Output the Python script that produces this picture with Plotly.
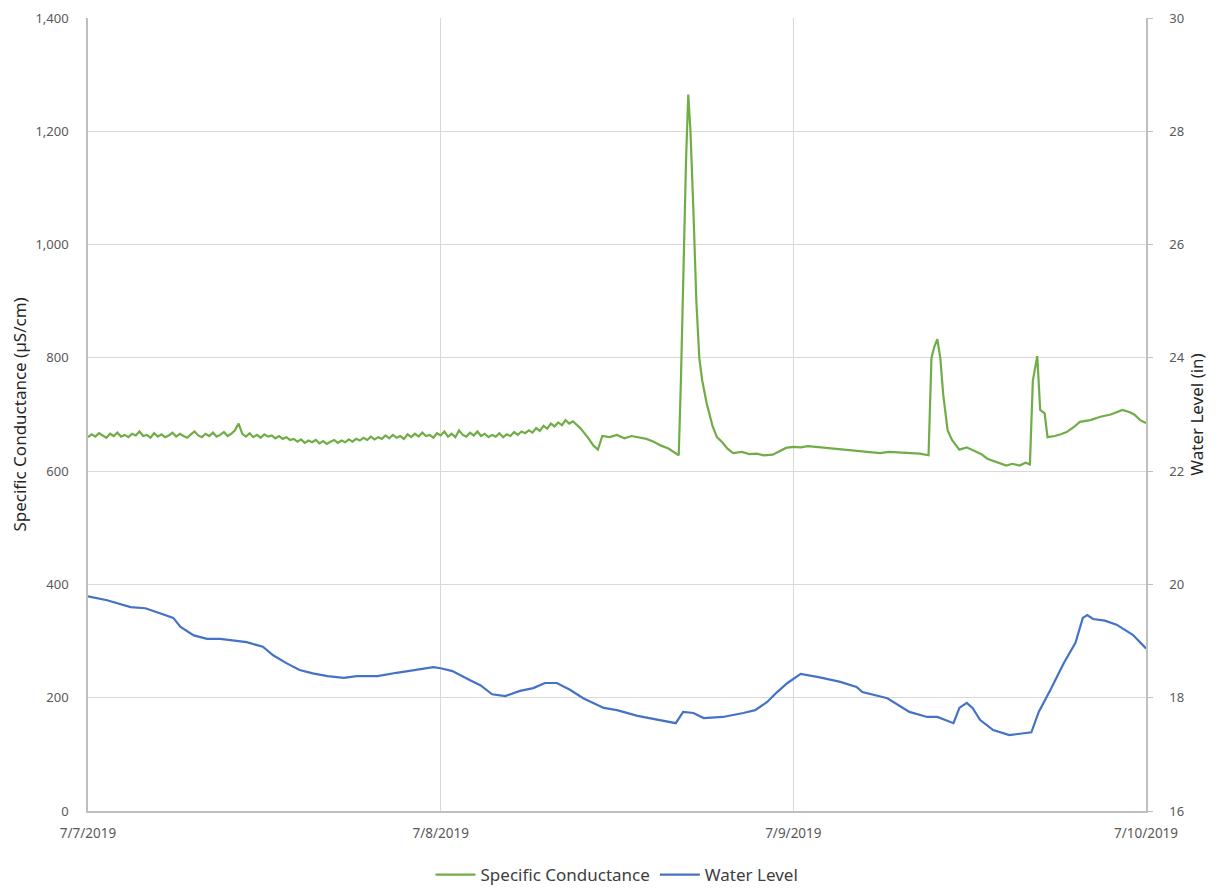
import pandas as pd
import plotly.graph_objects as go

start = pd.Timestamp("2019-07-07 00:00")

# Specific Conductance (µS/cm): hours since 7/7/2019 00:00 and values
sc_hours = [0, 0.25, 0.5, 0.75, 1, 1.25, 1.5, 1.75,
            2, 2.25, 2.5, 2.75, 3, 3.25, 3.5, 3.75,
            4, 4.25, 4.5, 4.75, 5, 5.25, 5.5, 5.75,
            6, 6.25, 6.5, 6.75, 7, 7.25, 7.5, 7.75,
            8, 8.25, 8.5, 8.75, 9, 9.25, 9.5, 9.75,
            10, 10.25, 10.5, 10.75, 11, 11.25, 11.5, 11.75,
            12, 12.25, 12.5, 12.75, 13, 13.25, 13.5, 13.75,
            14, 14.25, 14.5, 14.75, 15, 15.25, 15.5, 15.75,
            16, 16.25, 16.5, 16.75, 17, 17.25, 17.5, 17.75,
            18, 18.25, 18.5, 18.75, 19, 19.25, 19.5, 19.75,
            20, 20.25, 20.5, 20.75, 21, 21.25, 21.5, 21.75,
            22, 22.25, 22.5, 22.75, 23, 23.25, 23.5, 23.75,
            24, 24.25, 24.5, 24.75, 25, 25.25, 25.5, 25.75,
            26, 26.25, 26.5, 26.75, 27, 27.25, 27.5, 27.75,
            28, 28.25, 28.5, 28.75, 29, 29.25, 29.5, 29.75,
            30, 30.25, 30.5, 30.75, 31, 31.25, 31.5, 31.75,
            32, 32.25, 32.5, 32.75, 33, 33.25, 33.5, 33.75,
            34, 34.4,
            34.7, 35, 35.5, 36, 36.5, 37, 37.5, 38, 38.5, 39,
            39.5, 40, 40.2, 40.35, 40.5, 40.7, 40.85, 41, 41.2, 41.4,
            41.6, 41.8, 42.1, 42.3, 42.5, 42.8, 43.2, 43.5, 43.9, 44.5,
            45, 45.5, 46, 46.6, 47.1, 47.5, 48, 48.5, 49, 49.8,
            50.5, 51.5, 52.5, 53.2, 53.9, 54.5, 55.2, 55.9, 56.6, 57.2,
            57.4, 57.6, 57.8, 58, 58.2, 58.5, 58.8, 59, 59.3, 59.8,
            60.4, 60.8, 61.2, 61.6, 62.1, 62.5, 62.9, 63.4, 63.8, 64.1,
            64.3, 64.6, 64.8, 65.1, 65.3, 65.8, 66.2, 66.6, 67.1, 67.5,
            68.2, 68.9, 69.6, 70.4, 70.9, 71.2, 71.6, 72]
sc_values = [660, 665, 661, 667, 663, 659, 666, 662,
             668, 661, 664, 660, 666, 663, 670, 662,
             664, 659, 667, 661, 665, 660, 663, 668,
             661, 666, 662, 659, 665, 670, 663, 660,
             666, 662, 668, 661, 664, 669, 662, 666,
             672, 684, 666, 661, 667, 660, 664, 659,
             665, 661, 663, 658, 662, 657, 660, 655,
             657, 652, 656, 650, 654, 651, 655, 649,
             653, 648, 652, 655, 650, 654, 651, 656,
             652, 657, 654, 659, 655, 661, 656, 660,
             657, 663, 658, 664, 659, 662, 657, 665,
             660, 666, 661, 668, 662, 664, 659, 667,
             663, 670, 661, 666, 660, 672, 664, 661,
             668, 663, 670, 662, 666, 660, 664, 661,
             667, 660, 665, 662, 669, 664, 670, 667,
             672, 668, 676, 671, 680, 675, 684, 679,
             686, 681, 690, 684, 688, 682, 676, 668,
             660, 645,
             638, 662, 660, 664, 658, 662, 660, 657, 652, 645,
             640, 632, 628, 760, 950, 1150, 1265, 1200, 1060, 900,
             800, 760, 720, 700, 680, 660, 650, 640, 632, 634,
             630, 631, 628, 629, 635, 641, 643, 642, 644, 642,
             640, 638, 635, 634, 632, 634, 633, 632, 631, 628,
             800, 820, 833, 800, 735, 672, 655, 648, 638, 642,
             635, 630, 622, 618, 614, 610, 613, 610, 615, 612,
             760, 803, 708, 702, 660, 662, 665, 669, 678, 687,
             690, 696, 700, 708, 704, 700, 690, 685]

# Water Level (in)
wl_hours = [0, 1.3, 2.9, 3.9, 4.9, 5.8, 6.3, 7.2, 8.1, 9.0,
            10.8, 11.9, 12.6, 13.5, 14.4, 15.3, 16.3, 17.4, 18.3, 19.7,
            21.0, 22.4, 23.5, 24.0, 24.8, 26.0, 26.7, 27.5, 28.4, 29.4,
            30.3, 31.1, 31.9, 32.8, 33.7, 35.1, 36.0, 37.4, 38.7, 40.0,
            40.5, 41.2, 41.9, 43.2, 44.6, 45.4, 46.2, 46.9, 47.6, 48.5,
            49.8, 51.2, 52.3, 52.7, 54.4, 55.9, 57.1, 57.8, 58.9, 59.3,
            59.8, 60.2, 60.7, 61.6, 62.7, 64.2, 64.7, 65.5, 66.4, 67.2,
            67.7, 68.0, 68.4, 69.2, 70.0, 71.1, 72.0]
wl_values = [19.79, 19.72, 19.60, 19.58, 19.49, 19.41, 19.25, 19.10, 19.04, 19.04,
             18.98, 18.90, 18.75, 18.61, 18.49, 18.43, 18.38, 18.35, 18.38, 18.38,
             18.44, 18.50, 18.54, 18.52, 18.47, 18.31, 18.22, 18.06, 18.03, 18.12,
             18.17, 18.26, 18.26, 18.14, 17.99, 17.82, 17.78, 17.68, 17.62, 17.55,
             17.75, 17.73, 17.64, 17.66, 17.73, 17.78, 17.92, 18.10, 18.26, 18.42,
             18.36, 18.28, 18.19, 18.10, 17.99, 17.75, 17.66, 17.66, 17.55, 17.82,
             17.91, 17.82, 17.61, 17.43, 17.34, 17.39, 17.75, 18.14, 18.61, 18.97,
             19.41, 19.46, 19.39, 19.36, 19.29, 19.11, 18.87]

x_tick_vals = ["2019-07-07", "2019-07-08", "2019-07-09", "2019-07-10"]
x_tick_text = ["7/7/2019", "7/8/2019", "7/9/2019", "7/10/2019"]

sc_x = [start + pd.Timedelta(hours=h) for h in sc_hours]
wl_x = [start + pd.Timedelta(hours=h) for h in wl_hours]

FONT = "Noto Sans"
GRID = "#d9d9d9"
TICKC = "#595959"

fig = go.Figure()
fig.add_trace(go.Scatter(x=sc_x, y=sc_values, mode="lines", name="Specific Conductance",
                         line=dict(color="#70ad47", width=2.2)))
fig.add_trace(go.Scatter(x=wl_x, y=wl_values, mode="lines", name="Water Level",
                         line=dict(color="#4472c4", width=2.2), yaxis="y2"))

fig.update_layout(
    width=1213, height=884,
    margin=dict(l=80, r=75, t=10, b=81, autoexpand=False),
    paper_bgcolor="white", plot_bgcolor="white",
    font=dict(family=FONT, size=13, color=TICKC),
    showlegend=True,
    legend=dict(orientation="h", x=0.5, xanchor="center",
                yref="container", y=17 / 884, yanchor="middle",
                font=dict(size=17, color="#404040"), itemwidth=40,
                traceorder="normal"),
    xaxis=dict(type="date", range=["2019-07-07", "2019-07-10"],
               tickvals=x_tick_vals, ticktext=x_tick_text,
               showgrid=True, gridcolor=GRID, gridwidth=1,
               showline=True, linecolor="#bfbfbf", linewidth=1.5,
               ticks="", ticklabelstandoff=9, automargin=False,
               tickfont=dict(size=13.5, color=TICKC), zeroline=False),
    yaxis=dict(range=[0, 1400], dtick=200, tickformat=",",
               showgrid=True, gridcolor=GRID, gridwidth=1,
               showline=True, linecolor="#bfbfbf", linewidth=1.5,
               zeroline=False, ticks="", ticklabelstandoff=15, automargin=False,
               tickfont=dict(size=13, color=TICKC),
               title=dict(text="Specific Conductance (µS/cm)", standoff=12,
                          font=dict(size=17, color="#262626"))),
    yaxis2=dict(range=[16, 30], dtick=2, overlaying="y", side="right",
                showgrid=False, showline=True, linecolor="#bfbfbf", linewidth=1.5,
                zeroline=False, ticks="outside", ticklen=5, tickcolor="#bfbfbf",
                ticklabelstandoff=14, automargin=False,
                tickfont=dict(size=13, color=TICKC),
                title=dict(text="Water Level (in)", standoff=6,
                           font=dict(size=17, color="#262626"))),
)

fig.write_html("out.html")
